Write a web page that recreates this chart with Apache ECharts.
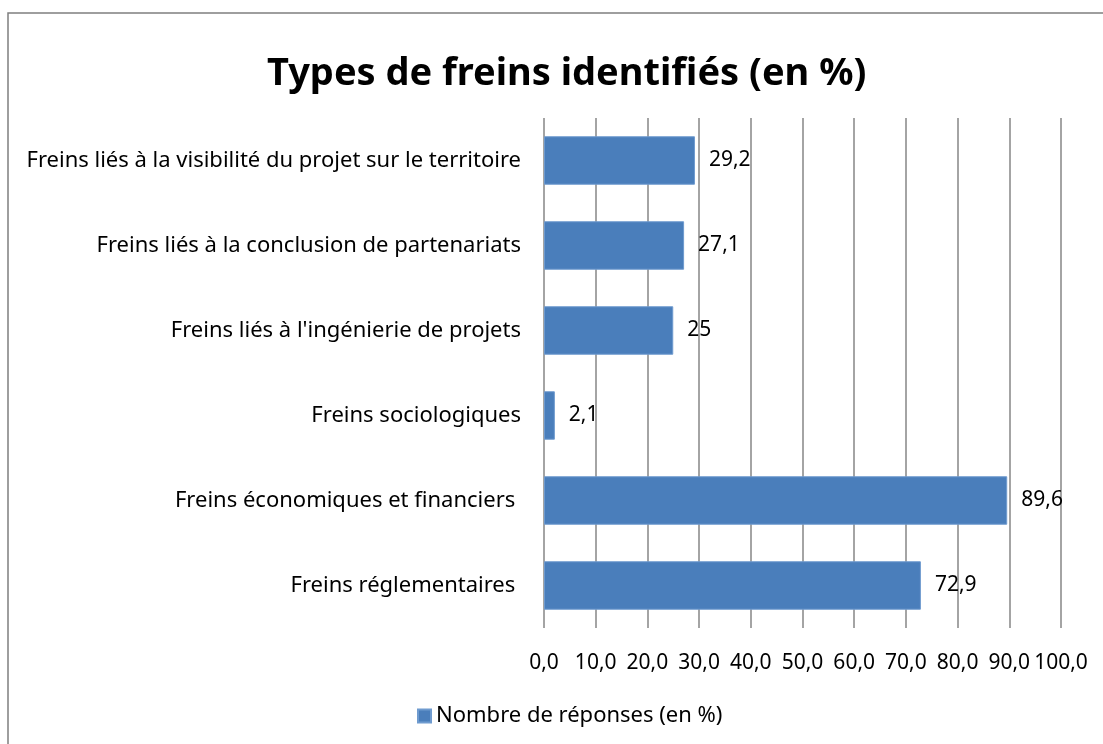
<!DOCTYPE html>
<html>
<head>
<meta charset="utf-8">
<title>Types de freins identifiés</title>
<script src="https://cdn.jsdelivr.net/npm/echarts@6/dist/echarts.min.js"></script>
<style>
  html, body { margin: 0; padding: 0; background: #fff; }
  #chart { width: 1103px; height: 744px; }
</style>
</head>
<body>
<div id="chart"></div>
<script>
// catégories (du haut vers le bas)
const categories = [
  "Freins liés à la visibilité du projet sur le territoire",
  "Freins liés à la conclusion de partenariats",
  "Freins liés à l'ingénierie de projets",
  "Freins sociologiques",
  "Freins économiques et financiers ",
  "Freins réglementaires "
];
const responses = [29.2, 27.1, 25, 2.1, 89.6, 72.9]; // Nombre de réponses (en %)
const seriesName = "Nombre de réponses (en %)";
const titleText = "Types de freins identifiés (en %)";

const font = "Noto Sans";
const chart = echarts.init(document.getElementById("chart"));

chart.setOption({
  animation: false,
  textStyle: { fontFamily: font },
  title: {
    text: titleText,
    left: 262,
    top: 50,
    textStyle: { fontSize: 38, fontWeight: "bold", color: "#000", fontFamily: font }
  },
  graphic: [{
    type: "rect",
    shape: { x: 8, y: 13, width: 1110, height: 760 },
    style: { fill: "none", stroke: "#7f7f7f", lineWidth: 1.5 },
    silent: true
  }],
  legend: {
    data: [seriesName],
    left: 412,
    top: 700,
    icon: "rect",
    itemWidth: 13,
    itemHeight: 13,
    itemGap: 8,
    textStyle: { fontSize: 22, color: "#000", fontFamily: font }
  },
  grid: { left: 544, right: 42, top: 118, bottom: 116 },
  xAxis: {
    type: "value",
    min: 0,
    max: 100,
    interval: 10,
    axisLine: { show: false },
    axisTick: { show: false },
    splitLine: { show: true, lineStyle: { color: "#868686", width: 1.5 } },
    axisLabel: {
      margin: 25,
      fontSize: 21,
      color: "#000",
      hideOverlap: false,
      formatter: v => v.toFixed(1).replace(".", ",")
    }
  },
  yAxis: {
    type: "category",
    inverse: true,
    data: categories,
    axisLine: { show: false },
    axisTick: { show: false },
    axisLabel: { margin: 23, fontSize: 22, color: "#000" }
  },
  series: [{
    name: seriesName,
    type: "bar",
    data: responses,
    barCategoryGap: "43%",
    itemStyle: { color: "#4a7ebb", borderColor: "#6f9bcf", borderWidth: 1 },
    label: {
      show: true,
      position: "right",
      distance: 14,
      fontSize: 21,
      color: "#000",
      formatter: p => String(p.value).replace(".", ",")
    }
  }]
});
</script>
</body>
</html>
